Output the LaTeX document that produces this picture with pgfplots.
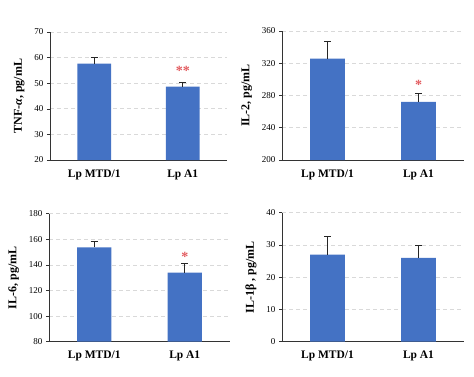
\documentclass[border=0pt]{standalone}
\usepackage{pgfplots}
\pgfplotsset{compat=1.18}
\usepackage{fontspec}
\setmainfont{Liberation Serif}
\definecolor{barblue}{HTML}{4472C4}
\definecolor{starred}{HTML}{E25A5E}
\pgfplotsset{
  panel/.style={
    scale only axis,
    anchor=south west,
    axis x line=bottom, axis y line=left,
    axis line style={-, black!80, line width=0.7pt},
    xmin=-0.5, xmax=1.5,
    xtick={0,1}, xticklabels={Lp MTD/1, Lp A1},
    xtick style={draw=none},
    x tick label style={font=\fontsize{11.5}{13}\selectfont\bfseries, yshift=-3pt},
    y tick label style={font=\fontsize{9}{10}\selectfont},
    /pgf/number format/assume math mode=true,
    tick align=outside, major tick length=3pt,
    ytick style={black!80, line width=0.6pt},
    ymajorgrids, grid style={dash pattern=on 4pt off 3pt, black!15, line width=0.7pt},
    ylabel style={font=\fontsize{12}{14}\selectfont\bfseries, yshift=3pt},
    bar width=0.38,
    error bars/y dir=plus, error bars/y explicit,
    error bars/error bar style={line width=0.9pt, black!85},
    error bars/error mark options={rotate=90, mark size=3.5pt, line width=0.9pt, black!85},
  },
  bars/.style={ybar, fill=barblue, draw=none, bar shift=0pt},
  stars/.style={only marks, mark=none, nodes near coords, point meta=explicit symbolic,
    every node near coord/.append style={anchor=center, text=starred, font=\fontsize{14}{14}\selectfont\bfseries}},
}
\begin{document}
\begin{tikzpicture}
\useasboundingbox (0pt,0pt) rectangle (474pt,376pt);
% TNF-alpha
\begin{axis}[panel, at={(50pt,216pt)}, width=177pt, height=128pt,
  ymin=20, ymax=70, ytick={20,30,...,70},
  ylabel={TNF-\textit{α}, pg/mL}]
\addplot[bars] coordinates {(0,57.6) +- (0,2.5) (1,48.7) +- (0,1.7)};
\addplot[stars] coordinates {(1,54.8) [**]};
\end{axis}
% IL-2
\begin{axis}[panel, at={(282pt,216pt)}, width=182pt, height=129pt,
  ymin=200, ymax=360, ytick={200,240,...,360},
  ylabel={IL-2, pg/mL}]
\addplot[bars] coordinates {(0,325.8) +- (0,21.8) (1,272.2) +- (0,10.3)};
\addplot[stars] coordinates {(1,293) [*]};
\end{axis}
% IL-6
\begin{axis}[panel, at={(49pt,34.3pt)}, width=181pt, height=128pt,
  ymin=80, ymax=180, ytick={80,100,...,180},
  ylabel={IL-6, pg/mL}]
\addplot[bars] coordinates {(0,153.6) +- (0,4.7) (1,134) +- (0,7.4)};
\addplot[stars] coordinates {(1,146.5) [*]};
\end{axis}
% IL-1beta
\begin{axis}[panel, at={(282pt,34.3pt)}, width=182pt, height=129pt,
  ymin=0, ymax=40, ytick={0,10,...,40},
  ylabel={IL-1β , pg/mL}]
\addplot[bars] coordinates {(0,27.0) +- (0,5.5) (1,26.0) +- (0,3.7)};
\end{axis}
\end{tikzpicture}
\end{document}
